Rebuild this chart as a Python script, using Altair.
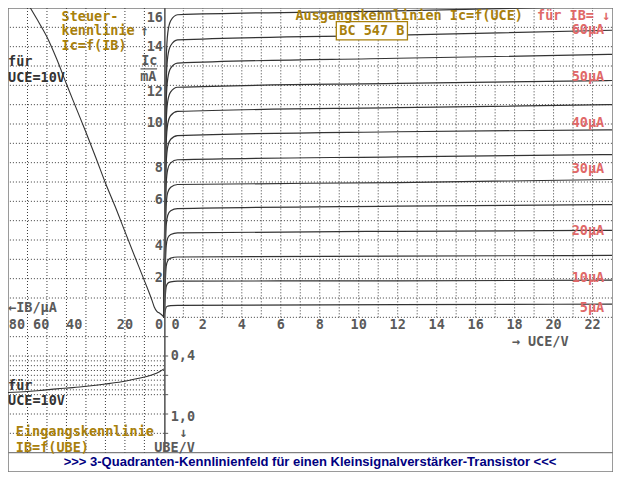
import altair as alt
import pandas as pd

# ---------------- values ----------------
# Output characteristics Ic = f(UCE) in mA, one list per base current IB (µA)
UCE_PTS = [0, 0.06, 0.12, 0.2, 0.35, 0.7, 12, 23]
IB_LEVELS = [5, 10, 15, 20, 25, 30, 35, 40, 45, 50, 55, 60, 65]
IC_IB05 = [0, 0.31, 0.53, 0.58, 0.61, 0.62, 0.66, 0.68]
IC_IB10 = [0, 0.94, 1.59, 1.76, 1.83, 1.87, 1.89, 1.92]
IC_IB15 = [0, 1.56, 2.65, 2.93, 3.06, 3.12, 3.17, 3.20]
IC_IB20 = [0, 2.19, 3.71, 4.11, 4.28, 4.37, 4.45, 4.50]
IC_IB25 = [0, 2.81, 4.78, 5.28, 5.51, 5.62, 5.75, 5.83]
IC_IB30 = [0, 3.44, 5.84, 6.46, 6.73, 6.87, 6.97, 7.13]
IC_IB35 = [0, 4.08, 6.93, 7.66, 7.99, 8.15, 8.30, 8.42]
IC_IB40 = [0, 4.70, 7.99, 8.84, 9.21, 9.40, 9.60, 9.70]
IC_IB45 = [0, 5.33, 9.05, 10.01, 10.44, 10.65, 10.85, 11.00]
IC_IB50 = [0, 5.95, 10.12, 11.19, 11.66, 11.90, 12.10, 12.25]
IC_IB55 = [0, 6.58, 11.18, 12.36, 12.89, 13.15, 13.40, 13.60]
IC_IB60 = [0, 7.18, 12.20, 13.49, 14.06, 14.35, 14.60, 14.85]
IC_IB65 = [0, 7.83, 13.30, 14.71, 15.34, 15.65, 15.85, 16.10]
IC_CURVES = [IC_IB05, IC_IB10, IC_IB15, IC_IB20, IC_IB25, IC_IB30, IC_IB35,
             IC_IB40, IC_IB45, IC_IB50, IC_IB55, IC_IB60, IC_IB65]

# Control characteristic Ic = f(IB) at UCE = 10 V
IB_CTRL = [0, 1, 2, 3.5, 5, 6, 10, 15, 20, 25, 30, 35, 40, 45, 50, 55, 60, 65, 70]
IC_CTRL = [0, 0.12, 0.2, 0.3, 0.55, 0.85, 1.9, 3.16, 4.44, 5.73, 6.95, 8.28,
           9.57, 10.82, 12.07, 13.36, 14.5, 15.4, 16.25]

# Input characteristic IB = f(UBE) at UCE = 10 V
IB_IN = [0, 2, 6.7, 13.5, 21.7, 30, 38.5, 46.7, 55, 63.5, 70, 80]
UBE_IN = [0.533, 0.56, 0.60, 0.633, 0.667, 0.69, 0.71, 0.727, 0.74, 0.757, 0.767, 0.777]

# Tick labels (texts and where the picture shows them)
UCE_TICKS = [0, 2, 4, 6, 8, 10, 12, 14, 16, 18, 20, 22]
IC_TICKS = [16, 14, 12, 10, 8, 6, 4, 2]
IC_TICK_POS = [15.5, 14.0, 11.65, 10.05, 7.7, 6.05, 3.7, 2.05]
IB_TICKS = [60, 40, 20, 0]
IB_TICK_POS = [63, 46, 20, 2.5]
UBE_TICKS = [0.4, 1.03]
UBE_TICK_TEXT = ["0,4", "1,0"]
# Grid
UCE_GRID = list(range(1, 23))
IC_GRID = list(range(0, 16))
IB_GRID = [10, 20, 30, 40, 50, 60, 70]
UBE_GRID = [0.2, 0.4, 0.45, 0.5, 0.55, 0.6, 0.65, 0.7, 0.75, 0.8, 1.0, 1.2]
UBE_MARKS = [0.2, 0.4, 0.6, 0.8, 1.0, 1.2]
CURVE_LABELS = ["60µA", "50µA", "40µA", "30µA", "20µA", "10µA", "5µA"]
CURVE_LABEL_POS = [14.85, 12.45, 10.05, 7.65, 4.45, 2.05, 0.5]

# ---------------- styling / geometry ----------------
W, H = 605, 464
UCE_DOM = [-8.0, 23.05]
IC_DOM = [-8.0, 16.0]
IB_DOM = [-230.5, 80.0]
UBE_DOM = [-3.2, 1.6]
MONO = "DejaVu Sans Mono"
FS = 13.5
GOLD = "#a8800c"
RED = "#e06868"
GRAY = "#5a5a5a"
DARK = "#333333"
GRID = "#3c3c3c"
ROW = -0.38   # IC level of the label row under the upper quadrants


def scale(dom, rev=False):
    return alt.Scale(domain=dom, nice=False, zero=False, reverse=rev)


SCALES = {
    "ur": (scale(UCE_DOM), scale(IC_DOM)),
    "ul": (scale(IB_DOM, True), scale(IC_DOM)),
    "ll": (scale(IB_DOM, True), scale(UBE_DOM, True)),
}


def X(q):
    return alt.X("x:Q", scale=SCALES[q][0], axis=None)


def Y(q):
    return alt.Y("y:Q", scale=SCALES[q][1], axis=None)


def texts(q, rows, color, size=FS, align="left", font=MONO, weight="bold"):
    df = pd.DataFrame(rows, columns=["x", "y", "t"])
    return alt.Chart(df).mark_text(
        align=align, baseline="middle", color=color, font=font,
        fontSize=size, fontWeight=weight
    ).encode(x=X(q), y=Y(q), text="t:N")


def vgrid(q, xs, y0, y1, color=GRID, dash=(1, 2), width=1):
    df = pd.DataFrame({"x": xs, "y": [y0] * len(xs), "y2": [y1] * len(xs)})
    m = dict(color=color, strokeWidth=width)
    if dash:
        m["strokeDash"] = list(dash)
    return alt.Chart(df).mark_rule(**m).encode(x=X(q), y=Y(q), y2="y2:Q")


def hgrid(q, ys, x0, x1, color=GRID, dash=(1, 2), width=1):
    df = pd.DataFrame({"y": ys, "x": [x0] * len(ys), "x2": [x1] * len(ys)})
    m = dict(color=color, strokeWidth=width)
    if dash:
        m["strokeDash"] = list(dash)
    return alt.Chart(df).mark_rule(**m).encode(x=X(q), x2="x2:Q", y=Y(q))


# ---------------- upper right: output characteristics ----------------
rows = []
for ib, ics in zip(IB_LEVELS, IC_CURVES):
    for i, (u, c) in enumerate(zip(UCE_PTS, ics)):
        rows.append({"x": u, "y": c, "ib": ib, "o": i})
df_out = pd.DataFrame(rows)

out_lines = alt.Chart(df_out).mark_line(
    interpolate="monotone", clip=True, color=DARK, strokeWidth=1.2
).encode(x=X("ur"), y=Y("ur"), detail="ib:N", order="o:Q")

box = alt.Chart(pd.DataFrame({"x": [8.85], "x2": [12.5], "y": [15.3], "y2": [14.35]})).mark_rect(
    fill="white", stroke=GOLD, strokeWidth=1.3
).encode(x=X("ur"), x2="x2:Q", y=Y("ur"), y2="y2:Q")

ur = alt.layer(
    vgrid("ur", UCE_GRID, 0, 16),
    hgrid("ur", IC_GRID, 0, 23.05),
    out_lines,
    # axis line and bottom separator
    vgrid("ur", [0.05], 16, -7, color=GRAY, dash=None, width=1.6),
    hgrid("ur", [-7.0], -8, 23.05, color="#808080", dash=None, width=1.2),
    box,
    texts("ur", [[10.675, 14.83, "BC 547 B"]], GOLD, align="center"),
    texts("ur", [[6.75, 15.6, "Ausgangskennlinien  Ic=f(UCE)"]], GOLD),
    texts("ur", [[19.15, 15.6, "für IB= ↓"]], RED),
    texts("ur", [[22.6, y, t] for y, t in zip(CURVE_LABEL_POS, CURVE_LABELS)], RED, align="right"),
    texts("ur", [[(0.6 if v == 0 else v), ROW, str(v)] for v in UCE_TICKS], GRAY, align="center"),
    texts("ur", [[17.85, -1.25, "→ UCE/V"]], GRAY),
    texts("ur", [[7.5, -7.5, ">>> 3-Quadranten-Kennlinienfeld für einen Kleinsignalverstärker-Transistor <<<"]],
          "#000080", size=13, align="center", font="Liberation Sans"),
)

# ---------------- upper left: control characteristic ----------------
df_ctrl = pd.DataFrame({"x": IB_CTRL, "y": IC_CTRL})
ctrl_line = alt.Chart(df_ctrl).mark_line(clip=True, color=DARK, strokeWidth=1.1, interpolate="monotone").encode(
    x=X("ul"), y=Y("ul"), order="x:Q")

ul = alt.layer(
    vgrid("ul", IB_GRID, 16, -7),
    hgrid("ul", IC_GRID[1:], 0, 80),
    ctrl_line,
    texts("ul", [[52.5, 15.55, "Steuer-"], [52.5, 14.8, "kennlinie"], [52.5, 14.05, "Ic=f(IB)"]], GOLD),
    texts("ul", [[10, 14.8, "↑"], [7.5, 13.25, "Ic"], [8, 12.45, "mA"]], GRAY, align="center"),
    hgrid("ul", [12.85], 12, 3.5, color=GRAY, dash=None, width=1.2),
    texts("ul", [[80, 13.2, "für"], [80, 12.4, "UCE=10V"]], DARK),
    texts("ul", [[0.5, p, str(v)] for v, p in zip(IC_TICKS, IC_TICK_POS)], GRAY, align="right"),
    texts("ul", [[p, ROW, str(v)] for v, p in zip(IB_TICKS, IB_TICK_POS)], GRAY, align="center"),
    texts("ul", [[79.6, ROW, "80"]], GRAY, align="left"),
    texts("ul", [[80, 0.5, "←IB/µA"]], GRAY),
)

# ---------------- lower left: input characteristic ----------------
df_in = pd.DataFrame({"x": IB_IN, "y": UBE_IN})
in_line = alt.Chart(df_in).mark_line(clip=True, color=DARK, strokeWidth=1.1, interpolate="monotone").encode(
    x=X("ll"), y=Y("ll"), order="x:Q")

ll = alt.layer(
    hgrid("ll", UBE_GRID, 0, 80),
    hgrid("ll", UBE_MARKS, 0, -2.2, color=GRAY, dash=None, width=1),
    in_line,
    texts("ll", [[80, 0.71, "für"], [80, 0.87, "UCE=10V"]], DARK),
    texts("ll", [[76, 1.19, "Eingangskennlinie"], [76, 1.35, "IB=f(UBE)"]], GOLD),
    texts("ll", [[-3.5, v, t] for v, t in zip(UBE_TICKS, UBE_TICK_TEXT)], GRAY),
    texts("ll", [[-10, 1.2, "↓"]], GRAY, align="center"),
    texts("ll", [[5, 1.35, "UBE/V"]], GRAY),
)

chart = alt.layer(ur, ul, ll).resolve_scale(x="independent", y="independent").properties(
    width=W, height=H, padding=0, autosize=alt.AutoSizeParams(type="none"), background="white"
).configure_view(stroke="#7a7a7a", strokeWidth=1.5)

chart.save("out.html", embed_options={"renderer": "svg", "actions": False})
